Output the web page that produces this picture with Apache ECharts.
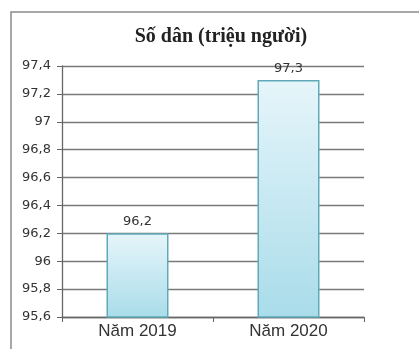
<!DOCTYPE html>
<html>
<head>
<meta charset="utf-8">
<script src="https://cdn.jsdelivr.net/npm/echarts@6/dist/echarts.min.js"></script>
<style>
  html, body { margin: 0; padding: 0; background: #fff; }
  #chart { width: 419px; height: 349px; }
</style>
</head>
<body>
<div id="chart"></div>
<script>
// dữ liệu
var categories = ["Năm 2019", "Năm 2020"];
var population = [96.2, 97.3];
var chartTitle = "Số dân (triệu người)";

function comma(v) {
  return String(Number(Number(v).toFixed(1))).replace(".", ",");
}

var chart = echarts.init(document.getElementById("chart"));
chart.setOption({
  animation: false,
  title: {
    text: chartTitle,
    left: 216,
    textAlign: "center",
    top: 22,
    textStyle: {
      fontFamily: "Liberation Serif, DejaVu Serif, serif",
      fontWeight: "bold",
      fontSize: 20,
      color: "#222"
    }
  },
  graphic: [
    {
      type: "rect",
      shape: { x: 11, y: 12, width: 430, height: 360 },
      style: { fill: "none", stroke: "#8a8a8a", lineWidth: 1.5 }
    }
  ],
  grid: { left: 62, right: 55, top: 66, bottom: 32 },
  xAxis: {
    type: "category",
    data: categories,
    axisLine: { lineStyle: { color: "#666", width: 1.3 } },
    axisTick: { show: true, length: 5, lineStyle: { color: "#666" } },
    axisLabel: {
      color: "#333",
      fontSize: 17,
      fontFamily: "Liberation Sans, Arial, sans-serif",
      margin: 6
    }
  },
  yAxis: {
    type: "value",
    min: 95.6,
    max: 97.4,
    interval: 0.2,
    axisLine: { show: true, lineStyle: { color: "#666", width: 1.3 } },
    axisTick: { show: true, length: 5, lineStyle: { color: "#666" } },
    splitLine: { lineStyle: { color: "#7a7a7a", width: 1.4 } },
    axisLabel: {
      color: "#333",
      fontSize: 13,
      fontFamily: "DejaVu Sans, sans-serif",
      margin: 11,
      formatter: comma
    }
  },
  series: [
    {
      type: "bar",
      data: population,
      barWidth: 62,
      itemStyle: {
        color: new echarts.graphic.LinearGradient(0, 0, 0, 1, [
          { offset: 0, color: "#e6f5fa" },
          { offset: 1, color: "#a9dcea" }
        ]),
        borderColor: "#5fa9b9",
        borderWidth: 1.5
      },
      label: {
        show: true,
        position: "top",
        distance: 5,
        color: "#333",
        fontSize: 13,
        fontFamily: "DejaVu Sans, sans-serif",
        formatter: function (p) { return comma(p.value); }
      }
    }
  ]
});
</script>
</body>
</html>
